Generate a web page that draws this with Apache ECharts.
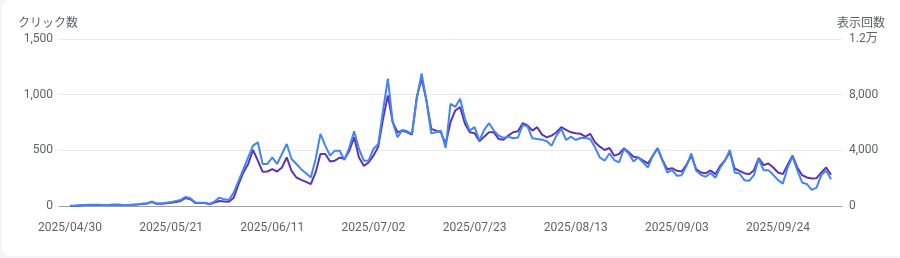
<!DOCTYPE html>
<html>
<head>
<meta charset="utf-8">
<script src="https://cdn.jsdelivr.net/npm/echarts@6/dist/echarts.min.js"></script>
<style>
  html, body { margin: 0; padding: 0; width: 900px; height: 258px; background: #f3f5f9; overflow: hidden; }
  #card { position: absolute; left: 2px; top: 0; width: 906px; height: 256px; background: #fff; border-radius: 8px; }
  #chart { position: absolute; left: 0; top: 0; width: 900px; height: 258px; }
</style>
</head>
<body>
<div id="card"></div>
<div id="chart"></div>
<script>
// Start date of the daily series and shown tick labels
const startDate = '2025/04/30';
const tickIdx = [0, 21, 42, 63, 84, 105, 126, 147];

// Daily clicks (left axis)
const clicks = [
  2, 3, 6, 10, 12, 12, 11, 10, 10, 12, 12, 8, 10, 12, 15, 20, 25, 40, 22, 22,
  30, 35, 45, 55, 82, 70, 32, 30, 30, 18, 40, 75, 60, 54, 120, 226, 331, 436, 542, 572,
  377, 377, 436, 377, 467, 557, 422, 377, 331, 295, 256, 422, 648, 542, 452, 497, 497, 413, 527, 671,
  512, 407, 407, 512, 557, 858, 1144, 753, 617, 684, 671, 648, 964, 1190, 949, 653, 662, 677, 521, 918,
  890, 964, 783, 677, 708, 587, 684, 744, 677, 632, 611, 623, 608, 615, 729, 714, 608, 602, 596, 581,
  542, 632, 693, 593, 623, 593, 611, 611, 602, 527, 436, 407, 472, 413, 391, 512, 472, 400, 436, 391,
  346, 452, 521, 407, 301, 322, 271, 277, 361, 472, 316, 280, 262, 297, 253, 346, 407, 503, 301, 292,
  232, 226, 277, 422, 322, 322, 280, 232, 201, 346, 443, 322, 211, 196, 145, 165, 280, 316, 241
];

// Daily impressions (right axis)
const impressions = [
  8, 16, 40, 64, 80, 80, 80, 80, 80, 88, 88, 64, 72, 88, 104, 136, 176, 280, 160, 160,
  200, 240, 280, 360, 576, 480, 224, 216, 216, 120, 240, 360, 320, 304, 600, 1568, 2408, 3016, 4024, 3256,
  2456, 2480, 2648, 2480, 2768, 3488, 2528, 2048, 1880, 1736, 1568, 2408, 3736, 3736, 3200, 3256, 3488, 3376, 3976, 4936,
  3488, 2888, 3128, 3616, 4264, 6264, 7952, 6024, 5296, 5416, 5296, 5128, 7832, 9152, 7592, 5544, 5416, 5296, 4456, 6024,
  6864, 7104, 5904, 5296, 5224, 4648, 4984, 5296, 5296, 4816, 4768, 5056, 5296, 5368, 5952, 5784, 5416, 5664, 5128, 4936,
  5056, 5296, 5664, 5472, 5296, 5224, 5184, 4984, 5184, 4576, 4264, 4024, 4168, 3616, 3736, 4144, 3856, 3544, 3488, 3256,
  3056, 3616, 4144, 3304, 2648, 2720, 2528, 2480, 2960, 3616, 2648, 2408, 2360, 2552, 2288, 2888, 3304, 3856, 2696, 2528,
  2360, 2288, 2576, 3448, 2936, 3056, 2768, 2408, 2288, 2960, 3616, 2768, 2216, 2048, 1976, 2000, 2408, 2768, 2240
];

// Date labels for each day
const dates = [];
(function () {
  const p = startDate.split('/').map(Number);
  const d0 = Date.UTC(p[0], p[1] - 1, p[2]);
  for (let i = 0; i < clicks.length; i++) {
    const d = new Date(d0 + i * 86400000);
    const mm = String(d.getUTCMonth() + 1).padStart(2, '0');
    const dd = String(d.getUTCDate()).padStart(2, '0');
    dates.push(d.getUTCFullYear() + '/' + mm + '/' + dd);
  }
})();

const FONT = 'Roboto, "Noto Sans CJK JP", sans-serif';
const TXT = '#5f6368';

const chart = echarts.init(document.getElementById('chart'), null, { renderer: 'canvas' });
chart.setOption({
  animation: false,
  backgroundColor: 'transparent',
  textStyle: { fontFamily: FONT },
  title: [
    { text: 'クリック数', left: 18, top: 18, padding: 0,
      textStyle: { fontSize: 12, fontWeight: 'normal', color: TXT, fontFamily: FONT } },
    { text: '表示回数', right: 15, top: 18, padding: 0,
      textStyle: { fontSize: 12, fontWeight: 'normal', color: TXT, fontFamily: FONT } }
  ],
  grid: { left: 59, right: 58, top: 39, bottom: 52, containLabel: false },
  xAxis: {
    type: 'value',
    min: -2.28,
    max: clicks.length - 1 + 2.28,
    axisLine: { show: true, onZero: true, lineStyle: { color: '#9aa0a6', width: 1 } },
    axisTick: { show: false },
    splitLine: { show: false },
    axisLabel: {
      customValues: tickIdx,
      margin: 16,
      fontSize: 12,
      color: TXT,
      fontFamily: FONT,
      formatter: function (v) { return dates[Math.round(v)] || ''; }
    }
  },
  yAxis: [
    {
      type: 'value', min: 0, max: 1500, interval: 500, position: 'left',
      axisLine: { show: false }, axisTick: { show: false },
      splitLine: { show: true, lineStyle: { color: '#e8eaed', width: 1 } },
      axisLabel: {
        margin: 6, fontSize: 12, color: TXT, fontFamily: FONT,
        formatter: function (v) { return v.toLocaleString('en-US'); }
      }
    },
    {
      type: 'value', min: 0, max: 12000, interval: 4000, position: 'right',
      axisLine: { show: false }, axisTick: { show: false },
      splitLine: { show: false },
      axisLabel: {
        margin: 7, fontSize: 12, color: TXT, fontFamily: FONT,
        formatter: function (v) {
          if (v >= 10000) return (v / 10000) + '万';
          return v.toLocaleString('en-US');
        }
      }
    }
  ],
  series: [
    {
      name: '表示回数', type: 'line', yAxisIndex: 1,
      data: impressions.map(function (v, i) { return [i, v]; }),
      showSymbol: false, smooth: false,
      lineStyle: { color: '#5e35b1', width: 2 },
      itemStyle: { color: '#5e35b1' }
    },
    {
      name: 'クリック数', type: 'line', yAxisIndex: 0,
      data: clicks.map(function (v, i) { return [i, v]; }),
      showSymbol: false, smooth: false,
      lineStyle: { color: '#4285f4', width: 2 },
      itemStyle: { color: '#4285f4' }
    }
  ]
});
</script>
</body>
</html>
